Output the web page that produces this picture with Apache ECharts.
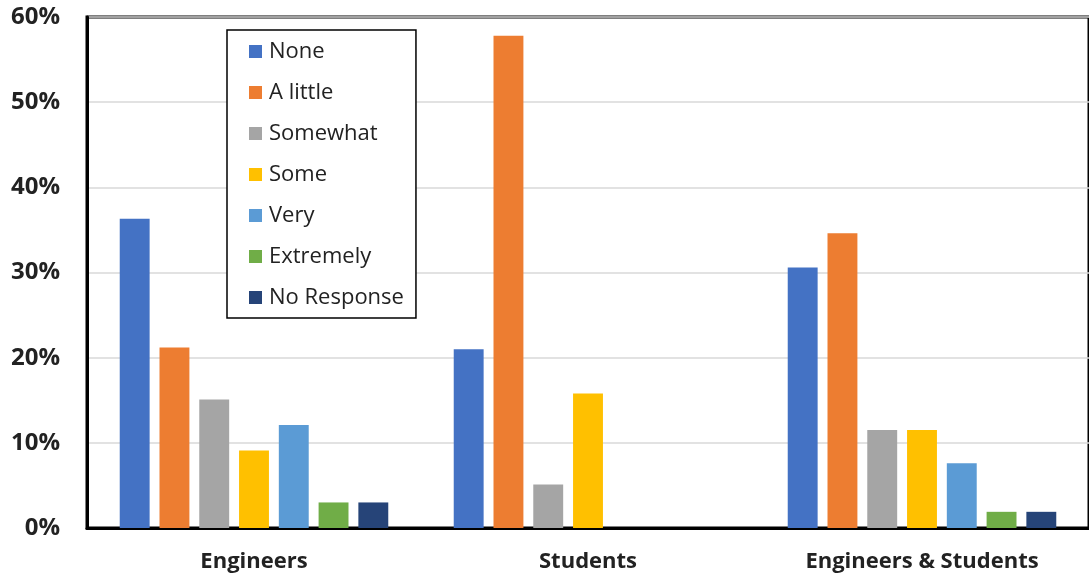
<!DOCTYPE html>
<html>
<head>
<meta charset="utf-8">
<script src="https://cdn.jsdelivr.net/npm/echarts@6/dist/echarts.min.js"></script>
<style>
  html, body { margin: 0; padding: 0; background: #fff; }
  #chart { width: 1089px; height: 579px; }
</style>
</head>
<body>
<div id="chart"></div>
<script>
// Respondent groups along the x axis
const groups = ['Engineers', 'Students', 'Engineers & Students'];

// Response levels (one series each)
const levels = ['None', 'A little', 'Somewhat', 'Some', 'Very', 'Extremely', 'No Response'];

// Share of responses per group, in percent
const noneVals       = [36.3, 21.0, 30.6];
const aLittleVals    = [21.2, 57.8, 34.6];
const somewhatVals   = [15.1,  5.1, 11.5];
const someVals       = [ 9.1, 15.8, 11.5];
const veryVals       = [12.1,  0,    7.6];
const extremelyVals  = [ 3.0,  0,    1.9];
const noResponseVals = [ 3.0,  0,    1.9];

const yTicks = [0, 10, 20, 30, 40, 50, 60];

const colors = ['#4472C4', '#ED7D31', '#A5A5A5', '#FFC000', '#5B9BD5', '#70AD47', '#264478'];
const seriesData = [noneVals, aLittleVals, somewhatVals, someVals, veryVals, extremelyVals, noResponseVals];

const font = '"Open Sans", "Noto Sans", sans-serif';

const chart = echarts.init(document.getElementById('chart'), null, { renderer: 'canvas' });

chart.setOption({
  animation: false,
  backgroundColor: '#fff',
  color: colors,
  textStyle: { fontFamily: font },
  grid: {
    left: 87, right: -7, top: 17, bottom: 51,
    show: true, borderColor: '#000', borderWidth: 3, backgroundColor: 'transparent'
  },
  legend: {
    orient: 'vertical',
    left: 227, top: 30,
    data: levels,
    icon: 'rect',
    itemWidth: 13, itemHeight: 13,
    itemGap: 14,
    padding: [8, 12, 7, 22],
    backgroundColor: '#fff',
    borderColor: '#000',
    borderWidth: 1.5,
    borderRadius: 0,
    textStyle: { fontFamily: font, fontSize: 22, color: '#222', lineHeight: 27, padding: [0, 0, 0, 2] }
  },
  xAxis: {
    type: 'category',
    data: groups,
    axisLine: { lineStyle: { color: '#000', width: 3 } },
    axisTick: { show: false },
    axisLabel: { fontFamily: font, fontSize: 22, fontWeight: 'bold', color: '#222', margin: 23 }
  },
  yAxis: {
    type: 'value',
    min: yTicks[0], max: yTicks[yTicks.length - 1], interval: 10,
    axisLine: { show: true, lineStyle: { color: '#000', width: 3 } },
    axisTick: { show: false },
    splitLine: { lineStyle: { color: '#d9d9d9', width: 1.5 } },
    axisLabel: {
      fontFamily: font, fontSize: 24, fontWeight: 'bold', color: '#222', margin: 27,
      formatter: v => v + '%'
    }
  },
  series: levels.map((name, i) => ({
    name: name,
    type: 'bar',
    data: seriesData[i],
    barGap: '33%',
    barCategoryGap: '19.6%',
    itemStyle: { color: colors[i] }
  }))
});
</script>
</body>
</html>
